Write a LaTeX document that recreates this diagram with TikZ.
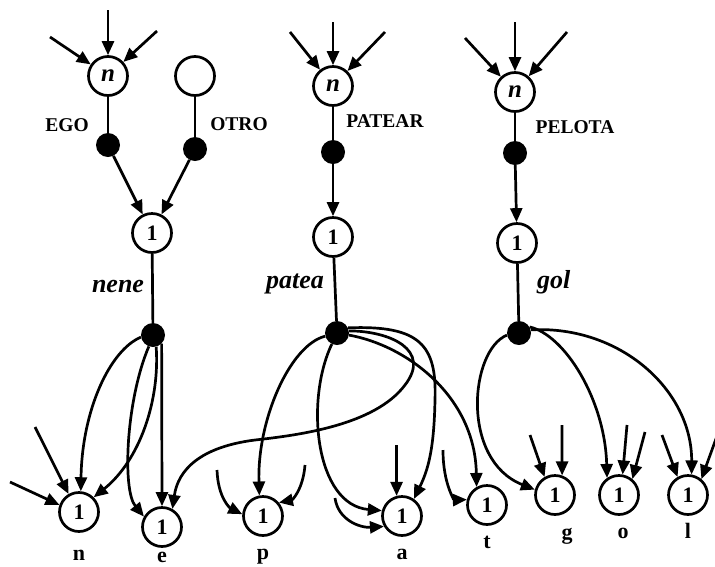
\documentclass[tikz,border=0pt]{standalone}
\usepackage{fontspec}
\setmainfont{Liberation Serif}
\usetikzlibrary{arrows.meta}
\begin{document}
\begin{tikzpicture}[x=1pt,y=-1pt,
 cnode/.style={circle,draw,line width=2.7pt,minimum size=39pt,inner sep=0pt,fill=white,font=\fontsize{22}{22}\selectfont\bfseries},
 nnode/.style={cnode,font=\fontsize{25}{25}\selectfont\bfseries\itshape},
 dotnode/.style={circle,fill=black,minimum size=24pt,inner sep=0pt},
 ln/.style={line width=2.7pt},
 ar/.style={line width=2.7pt,-{Triangle[length=14pt,width=12pt]}},
 lab/.style={font=\fontsize{19.5}{20}\selectfont\bfseries,inner sep=0pt},
 ilab/.style={font=\fontsize{26}{26}\selectfont\bfseries\itshape,inner sep=0pt},
 blab/.style={font=\fontsize{22}{22}\selectfont\bfseries,inner sep=0pt,anchor=base}
]
\useasboundingbox (0,0) rectangle (715,566);
% top nodes
\node[nnode] (n1) at (108,76) {n};
\node[cnode] (emp) at (195,76) {};
\node[dotnode] (d1) at (108,145) {};
\node[dotnode] (d2) at (195,149) {};
\node[cnode] (one1) at (152,233) {1};
\node[nnode] (n2) at (333,86) {n};
\node[dotnode] (d3) at (333,152) {};
\node[cnode] (one2) at (333,237) {1};
\node[nnode] (n3) at (515,92) {n};
\node[dotnode] (d4) at (515,153) {};
\node[cnode] (one3) at (517,243) {1};
% hubs
\node[dotnode] (h1) at (153,335) {};
\node[dotnode] (h2) at (337,333) {};
\node[dotnode] (h3) at (519,333) {};
% bottom nodes
\node[cnode] (bn) at (79,512) {1};
\node[cnode] (be) at (162,527) {1};
\node[cnode] (bp) at (263,516) {1};
\node[cnode] (ba) at (402,516) {1};
\node[cnode] (bt) at (487,505) {1};
\node[cnode] (bg) at (555,495) {1};
\node[cnode] (bo) at (619,495) {1};
\node[cnode] (bl) at (688,495) {1};
% labels
\node[lab] (lego) at (67,125) {EGO};
\node[lab] (lotro) at (239,124) {OTRO};
\node[lab] (lpatear) at (385,121) {PATEAR};
\node[lab] (lpelota) at (575,127) {PELOTA};
\node[ilab,anchor=base] (lnene) at (118,292) {nene};
\node[ilab,anchor=base] (lpatea) at (295,288) {patea};
\node[ilab,anchor=base west] (lgol) at (537,288) {gol};
\node[blab] (ln) at (79,560) {n};
\node[blab] (le) at (162,562) {e};
\node[blab] (lp) at (263,559) {p};
\node[blab] (la) at (402,559) {a};
\node[blab] (lt) at (487,548) {t};
\node[blab] (lg) at (567,539) {g};
\node[blab] (lo) at (623,538) {o};
\node[blab] (ll) at (688,538) {l};
% free ends
\coordinate (i1a) at (108,10);
\coordinate (i1b) at (50,37);
\coordinate (i1c) at (157,31);
\coordinate (i2a) at (333,22);
\coordinate (i2b) at (290,32);
\coordinate (i2c) at (385,32);
\coordinate (i3a) at (515,22);
\coordinate (i3b) at (465,38);
\coordinate (i3c) at (567,32);
\coordinate (sn1) at (35,427);
\coordinate (sn2) at (10,482);
\coordinate (sp1) at (217,470);
\coordinate (sp2) at (305,465);
\coordinate (sa1) at (396.5,445);
\coordinate (sa2) at (335,498);
\coordinate (st1) at (443,450);
\coordinate (sg1) at (530,435);
\coordinate (sg2) at (562,425);
\coordinate (so1) at (627,425);
\coordinate (so2) at (645,432);
\coordinate (sl1) at (662,435);
\coordinate (sl2) at (717,436);
% top incoming
\draw[ar] (i1a) -- (n1);
\draw[ar] (i1b) -- (n1);
\draw[ar] (i1c) -- (n1);
\draw[ar] (i2a) -- (n2);
\draw[ar] (i2b) -- (n2);
\draw[ar] (i2c) -- (n2);
\draw[ar] (i3a) -- (n3);
\draw[ar] (i3b) -- (n3);
\draw[ar] (i3c) -- (n3);
% stems
\draw[ln] (n1) -- (d1);
\draw[ln] (emp) -- (d2);
\draw[ar] (d1) -- (one1);
\draw[ar] (d2) -- (one1);
\draw[ln] (n2) -- (d3);
\draw[ar] (d3) -- (one2);
\draw[ln] (n3) -- (d4);
\draw[ar] (d4) -- (one3);
\draw[ln] (one1) -- (h1);
\draw[ln] (one2) -- (h2);
\draw[ln] (one3) -- (h3);
% left hub
\draw[ar] (h1.190) .. controls (110,350) and (82,410) .. (bn.85);
\draw[ar] (h1.-75) .. controls (160,400) and (140,460) .. (bn.45);
\draw[ar] (h1.-110) .. controls (126,400) and (122,490) .. (be.150);
\draw[ar] (h1.-45) -- (be.north);
% middle hub
\draw[ar] (h2.10) .. controls (390,331) and (432,350) .. (405,385)
  .. controls (375,425) and (300,435) .. (255,440)
  .. controls (200,447) and (178,470) .. (be.60);
\draw[ar] (h2.195) .. controls (290,345) and (257,420) .. (bp.100);
\draw[ar] (h2.-115) .. controls (305,400) and (315,505) .. (ba.165);
\draw[ar] (h2.25) .. controls (420,325) and (437,345) .. (435,400)
  .. controls (434,450) and (428,470) .. (ba.55);
\draw[ar] (h2.-10) .. controls (405,345) and (475,395) .. (bt.120);
% right hub
\draw[ar] (h3.190) .. controls (470,350) and (460,460) .. (bg.165);
\draw[ar] (h3.30) .. controls (565,335) and (605,400) .. (bo.125);
\draw[ar] (h3.15) .. controls (620,325) and (692,390) .. (bl.80);
% short incoming
\draw[ar] (sn1) -- (bn.120);
\draw[ar] (sn2) -- (bn.160);
\draw[ar] (sp1) .. controls (218,498) and (230,508) .. (bp.175);
\draw[ar] (sp2) .. controls (303,490) and (292,500) .. (bp.40);
\draw[ar] (sa1) -- (ba.105);
\draw[ar] (sa2) .. controls (338,520) and (360,528) .. (ba.210);
\draw[ar] (st1) .. controls (443,485) and (455,500) .. (bt.165);
\draw[ar] (sg1) -- (bg.120);
\draw[ar] (sg2) -- (bg.70);
\draw[ar] (so1) -- (bo.80);
\draw[ar] (so2) -- (bo.50);
\draw[ar] (sl1) -- (bl.120);
\draw[ar] (sl2) -- (bl.50);
\end{tikzpicture}
\end{document}
